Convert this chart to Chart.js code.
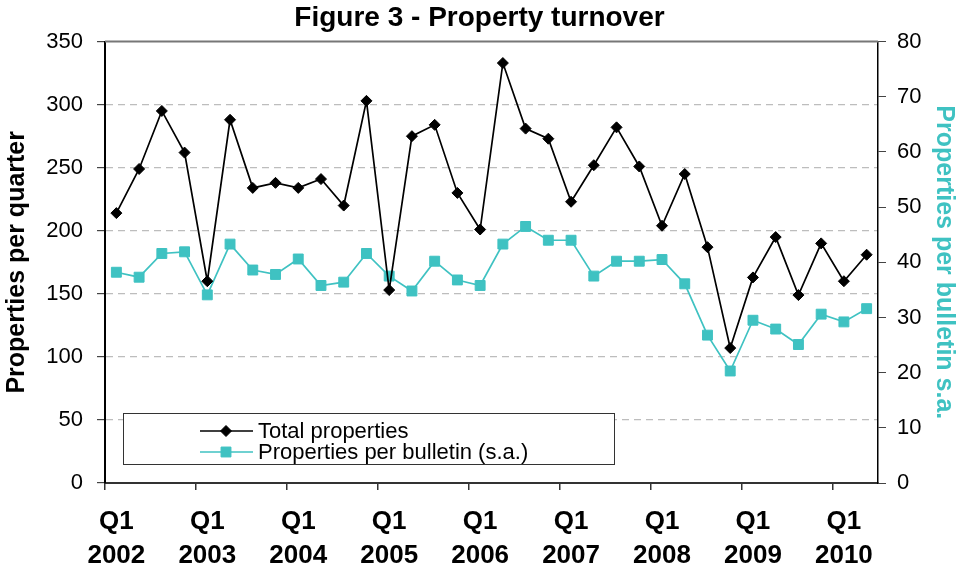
<!DOCTYPE html>
<html>
<head>
<meta charset="utf-8">
<script src="https://cdn.jsdelivr.net/npm/chart.js@4.4.0/dist/chart.umd.min.js"></script>
<style>
  html, body { margin: 0; padding: 0; background: #fff; }
  #wrap { width: 959px; height: 572px; }
</style>
</head>
<body>
<div id="wrap"><canvas id="chart" width="959" height="572"></canvas></div>
<script>
// quarters Q1 2002 .. Q2 2010
const years = [2002, 2003, 2004, 2005, 2006, 2007, 2008, 2009, 2010];
const quarters = [];
years.forEach(y => {
  for (let q = 1; q <= 4; q++) {
    if (y === 2010 && q > 2) break;
    quarters.push('Q' + q + ' ' + y);
  }
});

const totalProperties = [214, 249, 295, 262, 160, 288, 234, 238, 234, 241, 220, 303,
  153, 275, 284, 230, 201, 333, 281, 273, 223, 252, 282, 251, 204, 245,
  187, 107, 163, 195, 149, 190, 160, 181];
const perBulletin = [38.2, 37.3, 41.6, 41.9, 34.1, 43.3, 38.6, 37.8, 40.6, 35.8, 36.4, 41.6,
  37.5, 34.8, 40.2, 36.8, 35.8, 43.3, 46.5, 44.0, 44.0, 37.5, 40.2, 40.2, 40.5, 36.1,
  26.8, 20.3, 29.5, 27.9, 25.1, 30.6, 29.2, 31.6];

const FONT = "'Liberation Sans', Arial, sans-serif";
const CYAN = '#3fc2c2';

// legend box drawn inside the plot, like the original
const boxLegend = {
  id: 'boxLegend',
  afterDraw(chart) {
    const ctx = chart.ctx;
    const x = 123.5, y = 413.5, w = 491, h = 51;
    ctx.save();
    ctx.fillStyle = '#fff';
    ctx.fillRect(x, y, w, h);
    ctx.strokeStyle = '#333';
    ctx.lineWidth = 1;
    ctx.strokeRect(x, y, w, h);
    const rows = [431, 452];
    chart.data.datasets.forEach((ds, i) => {
      const ry = rows[i];
      ctx.strokeStyle = ds.borderColor;
      ctx.lineWidth = ds.borderWidth;
      ctx.beginPath();
      ctx.moveTo(200, ry);
      ctx.lineTo(253, ry);
      ctx.stroke();
      ctx.fillStyle = ds.pointBackgroundColor;
      ctx.strokeStyle = ds.pointBorderColor;
      ctx.lineWidth = 1;
      Chart.helpers.drawPoint(ctx, {
        pointStyle: ds.pointStyle, radius: ds.pointRadius, borderWidth: 1
      }, 226, ry);
      ctx.fillStyle = '#000';
      ctx.font = '22px ' + FONT;
      ctx.textBaseline = 'middle';
      ctx.textAlign = 'left';
      ctx.fillText(ds.label, 258, ry + 1);
    });
    ctx.restore();
  }
};

const topBorder = {
  id: 'topBorder',
  beforeDatasetsDraw(chart) {
    const a = chart.chartArea, ctx = chart.ctx;
    ctx.save();
    ctx.strokeStyle = '#777';
    ctx.lineWidth = 2;
    ctx.beginPath();
    ctx.moveTo(a.left, a.top);
    ctx.lineTo(a.right, a.top);
    ctx.stroke();
    ctx.restore();
  }
};

new Chart(document.getElementById('chart'), {
  type: 'line',
  data: {
    labels: quarters,
    datasets: [
      {
        label: 'Total properties',
        data: totalProperties,
        yAxisID: 'y',
        borderColor: '#000',
        borderWidth: 1.7,
        pointStyle: 'rectRot',
        pointRadius: 5.5,
        pointBackgroundColor: '#000',
        pointBorderColor: '#000',
        pointBorderWidth: 1,
        tension: 0
      },
      {
        label: 'Properties per bulletin (s.a.)',
        data: perBulletin,
        yAxisID: 'y1',
        borderColor: CYAN,
        borderWidth: 1.7,
        pointStyle: 'rect',
        pointRadius: 7,
        pointBackgroundColor: CYAN,
        pointBorderColor: CYAN,
        pointBorderWidth: 1,
        tension: 0
      }
    ]
  },
  options: {
    responsive: false,
    animation: false,
    layout: { padding: 0 },
    plugins: {
      legend: { display: false },
      tooltip: { enabled: false },
      title: {
        display: true,
        text: 'Figure 3 - Property turnover',
        color: '#000',
        font: { family: FONT, size: 28, weight: 'bold' },
        padding: { top: 1, bottom: 7 }
      }
    },
    scales: {
      x: {
        offset: true,
        afterFit: s => { s.height = 89; },
        grid: {
          offset: true,
          drawOnChartArea: false,
          drawTicks: true,
          tickLength: 7,
          color: c => (c.index % 4 === 0 ? '#333' : 'rgba(0,0,0,0)'),
          tickColor: c => (c.index % 4 === 0 ? '#333' : 'rgba(0,0,0,0)'),
          lineWidth: 1.5
        },
        border: { color: '#333', width: 2 },
        ticks: {
          autoSkip: false,
          maxRotation: 0,
          minRotation: 0,
          padding: 15,
          color: '#000',
          font: { family: FONT, size: 26, weight: 'bold', lineHeight: 1.3 },
          callback: (v, i) => (i % 4 === 0 ? ['Q1', quarters[i].split(' ')[1]] : '')
        }
      },
      y: {
        position: 'left',
        min: 0,
        max: 350,
        afterFit: s => { s.width = 105; },
        ticks: {
          stepSize: 50,
          padding: 14,
          color: '#000',
          font: { family: FONT, size: 22 }
        },
        grid: {
          color: c => (c.tick.value === 0 || c.tick.value === 350 ? 'rgba(0,0,0,0)' : '#bdbdbd'),
          tickColor: '#444',
          tickLength: 8,
          lineWidth: 1.2
        },
        border: { color: '#000', width: 2, dash: [7, 5] },
        title: {
          display: true,
          text: 'Properties per quarter',
          color: '#000',
          font: { family: FONT, size: 25, weight: 'bold' },
          padding: { top: 2, bottom: 0 }
        }
      },
      y1: {
        position: 'right',
        min: 0,
        max: 80,
        afterFit: s => { s.width = 81; },
        ticks: {
          stepSize: 10,
          padding: 11,
          color: '#000',
          font: { family: FONT, size: 22 }
        },
        grid: {
          drawOnChartArea: false,
          tickColor: '#444',
          tickLength: 8
        },
        border: { color: '#000', width: 1.5 },
        title: {
          display: true,
          text: 'Properties per bulletin s.a.',
          color: CYAN,
          font: { family: FONT, size: 25, weight: 'bold' },
          padding: { top: 0, bottom: 0 }
        }
      }
    }
  },
  plugins: [topBorder, boxLegend]
});
</script>
</body>
</html>
